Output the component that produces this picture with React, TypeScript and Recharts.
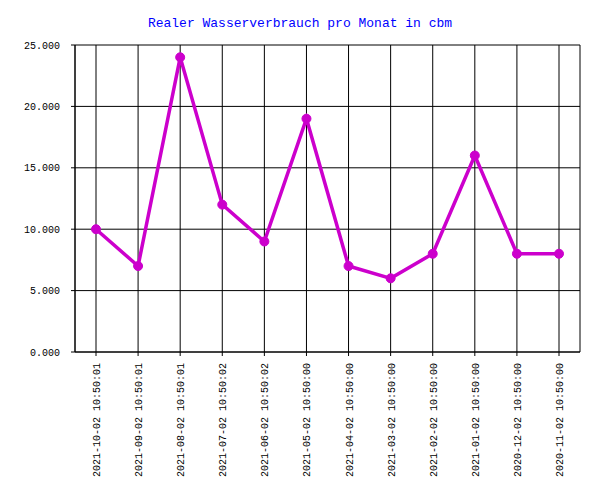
import React from 'react';
import { LineChart, Line, XAxis, YAxis, CartesianGrid } from 'recharts';

const categories = [
  '2021-10-02 10:50:01',
  '2021-09-02 10:50:01',
  '2021-08-02 10:50:01',
  '2021-07-02 10:50:02',
  '2021-06-02 10:50:02',
  '2021-05-02 10:50:00',
  '2021-04-02 10:50:00',
  '2021-03-02 10:50:00',
  '2021-02-02 10:50:00',
  '2021-01-02 10:50:00',
  '2020-12-02 10:50:00',
  '2020-11-02 10:50:00',
];
const consumption = [10000, 7000, 24000, 12000, 9000, 19000, 7000, 6000, 8000, 16000, 8000, 8000];
const yTicks = [0, 5000, 10000, 15000, 20000, 25000];
const title = 'Realer Wasserverbrauch pro Monat in cbm';

const data = categories.map((c, i) => ({ date: c, value: consumption[i] }));

const fmt = (v: number) => (v / 1000).toFixed(3);
const FONT = '"Liberation Mono", "DejaVu Sans Mono", monospace';

const XTick = (props: any) => {
  const { x, y, payload } = props;
  return (
    <text
      x={0}
      y={0}
      transform={`translate(${x + 4},${y + 5}) rotate(-90)`}
      textAnchor="end"
      fontFamily={FONT}
      fontSize={10}
      fill="#000"
    >
      {payload.value}
    </text>
  );
};

export default function App() {
  return (
    <div style={{ position: 'absolute', left: 0, top: 0, width: 600, height: 500, background: '#fff' }}>
      <svg width={600} height={40} style={{ position: 'absolute', left: 0, top: 0 }}>
        <text x={300} y={27} textAnchor="middle" fontFamily={FONT} fontSize={13} fill="#0000ff">
          {title}
        </text>
      </svg>
      <LineChart
        width={600}
        height={500}
        data={data}
        margin={{ top: 45, right: 20, bottom: 0, left: 0 }}
      >
        <CartesianGrid stroke="#000" strokeWidth={1} vertical horizontal />
        <XAxis
          dataKey="date"
          type="category"
          interval={0}
          height={148}
          padding={{ left: 21, right: 21 }}
          tickSize={4}
          axisLine={{ stroke: '#000' }}
          tickLine={{ stroke: '#000' }}
          tick={<XTick />}
        />
        <YAxis
          domain={[0, 25000]}
          ticks={yTicks}
          width={75}
          tickSize={4}
          tickMargin={11}
          tickFormatter={fmt}
          axisLine={{ stroke: '#000' }}
          tickLine={{ stroke: '#000' }}
          tick={{ fontFamily: FONT, fontSize: 10, fill: '#000' }}
        />
        <YAxis
          yAxisId="right"
          orientation="right"
          width={0}
          domain={[0, 25000]}
          tick={false}
          tickLine={false}
          axisLine={{ stroke: '#000' }}
        />
        <Line
          type="linear"
          dataKey="value"
          stroke="#cc00cc"
          strokeWidth={3.5}
          dot={{ r: 4.5, fill: '#cc00cc', stroke: '#cc00cc', strokeWidth: 1 }}
          isAnimationActive={false}
        />
      </LineChart>
    </div>
  );
}
